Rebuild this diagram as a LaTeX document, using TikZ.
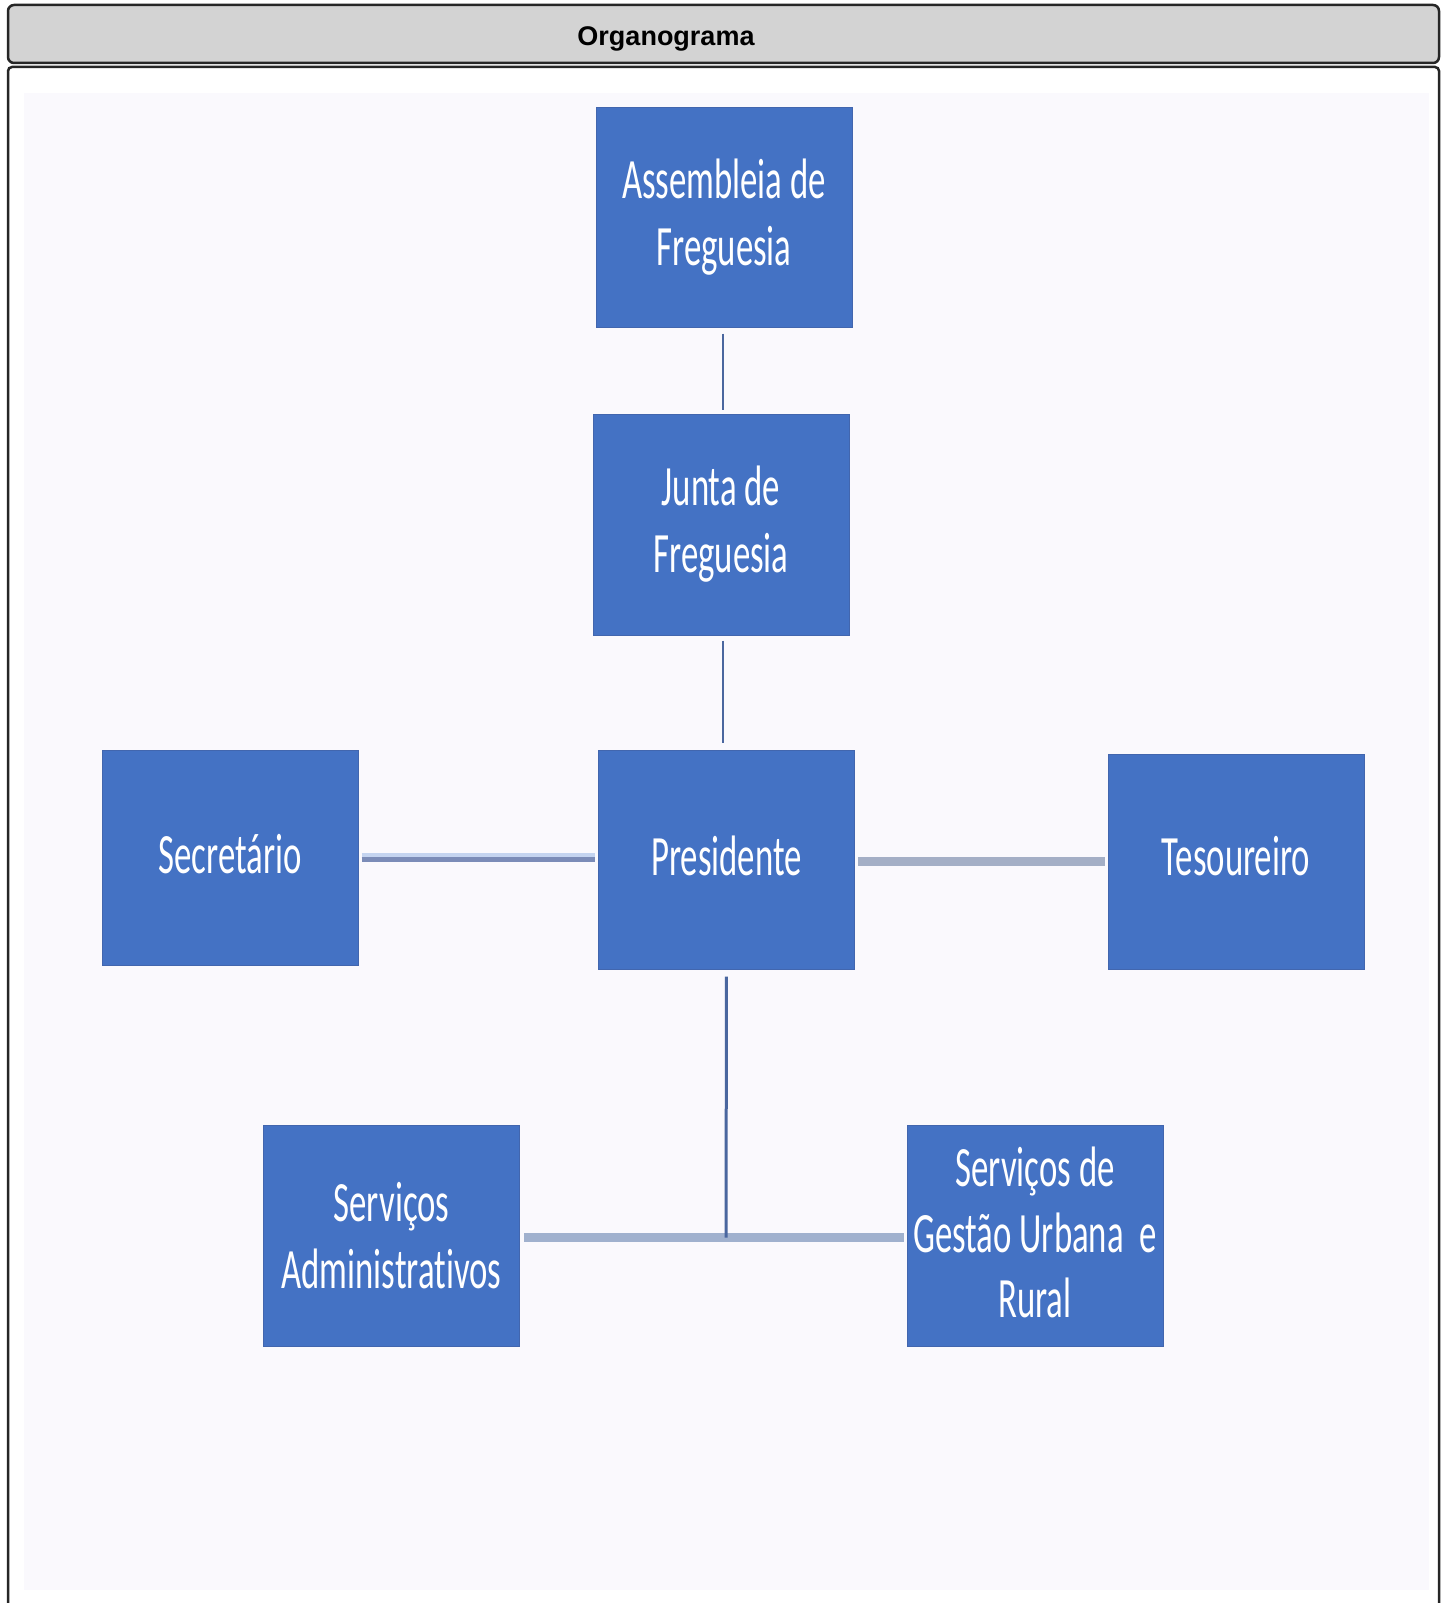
\documentclass[tikz,border=0pt]{standalone}
\usepackage{fontspec}
\setmainfont{Carlito}[Ligatures={NoCommon}]
\newfontfamily\titlefont{Liberation Sans}
\usepackage{graphicx}
\definecolor{boxblue}{HTML}{4472C4}
\definecolor{boxedge}{HTML}{4266AE}
\definecolor{panelbg}{HTML}{FAF9FD}
\definecolor{titlegray}{HTML}{D3D3D3}
\definecolor{darkline}{HTML}{4A679F}
\definecolor{splight}{HTML}{C4D4F0}
\definecolor{spdark}{HTML}{7B8CB8}
\definecolor{ptline}{HTML}{A4AFC6}
\definecolor{botline}{HTML}{A0B1CE}
\newcommand\hsq[1]{\scalebox{0.61}[1]{#1}}
\newcommand\hup[2]{\raisebox{#1}[\height][\depth]{#2}}
\tikzset{
  orgbox/.style={draw=boxedge, fill=boxblue, line width=1pt, minimum width=256pt,
    minimum height=220pt, inner sep=0pt, text=white, align=center,
    font=\fontsize{57}{67}\selectfont},
  thinconn/.style={draw=darkline, line width=2.5pt},
}
\begin{document}
\begin{tikzpicture}[x=1pt,y=-1pt]
\useasboundingbox (0,0) rectangle (1446,1603);
\fill[white] (0,0) rectangle (1446,1603);
\fill[panelbg] (24,93) rectangle (1429,1590);
% frame
\draw[black!85, line width=2.5pt, rounded corners=4pt] (8,1620) -- (8,67) -- (1439,67) -- (1439,1620);
\draw[black!85, fill=titlegray, line width=2.5pt, rounded corners=6pt] (8,5) rectangle (1439,63);
\node (title) at (666,39) {\titlefont\bfseries\fontsize{27}{32}\selectfont Organograma};

% boxes
\node[orgbox] (A) at (724,217) {\hsq{Assembleia de}\\\hsq{Freguesia}};
\node[orgbox, minimum height=221pt] (J) at (721,524.5) {\hsq{Junta de}\\\hsq{Freguesia}};
\node[orgbox, minimum height=219pt] (P) at (726.5,859.5) {\hsq{\hup{4pt}{Presidente}}};
\node[orgbox, minimum height=215pt] (S) at (230,857.5) {\hsq{\hup{3pt}{Secretário}}};
\node[orgbox, minimum height=215pt] (T) at (1236,861.5) {\hsq{\hup{5pt}{Tesoureiro}}};
\node[orgbox, minimum height=221pt] (SA) at (391.5,1235.5) {\hsq{Serviços}\\\hsq{Administrativos}};
\node[orgbox, minimum height=221pt, font=\fontsize{57}{65.5}\selectfont] (SG) at (1035,1235.5) {\hsq{\hup{3pt}{Serviços de}}\\\hsq{\hup{3pt}{Gestão Urbana\ \ e}}\\\hsq{\hup{3pt}{Rural}}};

% connectors
\draw[thinconn, shorten <=6pt, shorten >=4pt] ([xshift=-1pt]A.south) -- ([xshift=-1pt]A.south |- J.north);
\draw[thinconn, shorten <=5pt, shorten >=7pt] ([xshift=2pt]J.south) -- ([xshift=2pt]J.south |- P.north);
\draw[splight, line width=4.5pt, shorten <=3pt, shorten >=3pt] ([yshift=2.5pt]S.east) -- ([yshift=2.5pt]S.east -| P.west);
\draw[spdark, line width=4.5pt, shorten <=3pt, shorten >=3pt] ([yshift=-2pt]S.east) -- ([yshift=-2pt]S.east -| P.west);
\draw[ptline, line width=9pt, shorten <=3pt, shorten >=3pt] ([yshift=-2pt]P.east) -- ([yshift=-2pt]P.east -| T.west);
\coordinate (jn) at (726,1237.5);
\draw[botline, line width=9pt, shorten <=4pt, shorten >=3pt] (SA.east |- jn) -- (SG.west |- jn);
\draw[thinconn, line width=3pt, shorten <=7pt] (P.south) -- (jn);
\end{tikzpicture}
\end{document}
